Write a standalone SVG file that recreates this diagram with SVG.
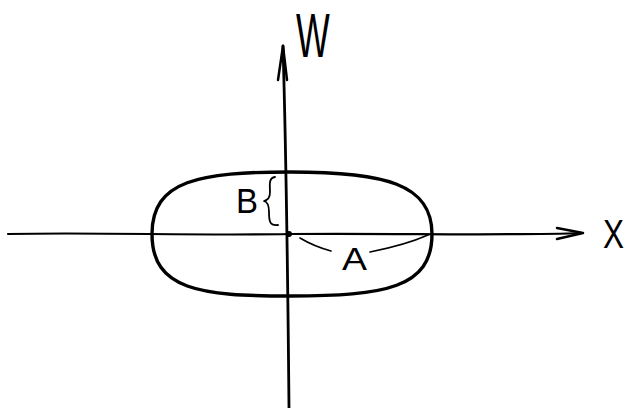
<svg xmlns="http://www.w3.org/2000/svg" width="630" height="408" viewBox="0 0 630 408">
<style>
.ln{fill:none;stroke:#000;stroke-linecap:round;stroke-linejoin:round}
.t{font-family:"Liberation Sans",Arial,sans-serif;fill:#000}
</style>
<rect width="630" height="408" fill="#fff"/>
<g id="axes">
<path class="ln" stroke-width="2.2" d="M8,234 C100,232 200,236 289,234 C400,233 500,236 583,233"/>
<path class="ln" stroke-width="2.5" d="M557,228 L583,233 L557,239"/>
<path class="ln" stroke-width="2.8" d="M289,408 C288,300 286,150 283,46"/>
<path class="ln" stroke-width="2.5" d="M278,80 L283,46 L287,80"/>
</g>
<g id="shape">
<path class="ln" stroke-width="3.4" d="M290,172 C385,172 432,184 432,234 C432,288 385,296 290,296 C200,296 152,290 152,234 C152,180 200,172 290,172 Z"/>
<circle cx="289" cy="234" r="3" fill="#000"/>
</g>
<g id="labelB">
<path class="ln" stroke-width="1.8" d="M275,177 C268,178 270,186 270,192 C270,198 268,200 264,201 C268,202 269,206 269,212 C269,222 270,226 278,225"/>
<text class="t" x="236" y="213" font-size="35" textLength="22" lengthAdjust="spacingAndGlyphs">B</text>
</g>
<g id="labelA">
<path class="ln" stroke-width="1.6" d="M300,238 C310,244 320,248 331,251"/>
<path class="ln" stroke-width="1.6" d="M370,252 C390,248 410,243 428,235"/>
<text class="t" x="342" y="270" font-size="31" textLength="25" lengthAdjust="spacingAndGlyphs">A</text>
</g>
<g id="labelW">
<text class="t" transform="translate(296,57) scale(0.75,1.3)" font-size="48" textLength="45" lengthAdjust="spacingAndGlyphs">W</text>
</g>
<g id="labelX">
<text class="t" x="603" y="248" font-size="40" textLength="21" lengthAdjust="spacingAndGlyphs">X</text>
</g>
</svg>
